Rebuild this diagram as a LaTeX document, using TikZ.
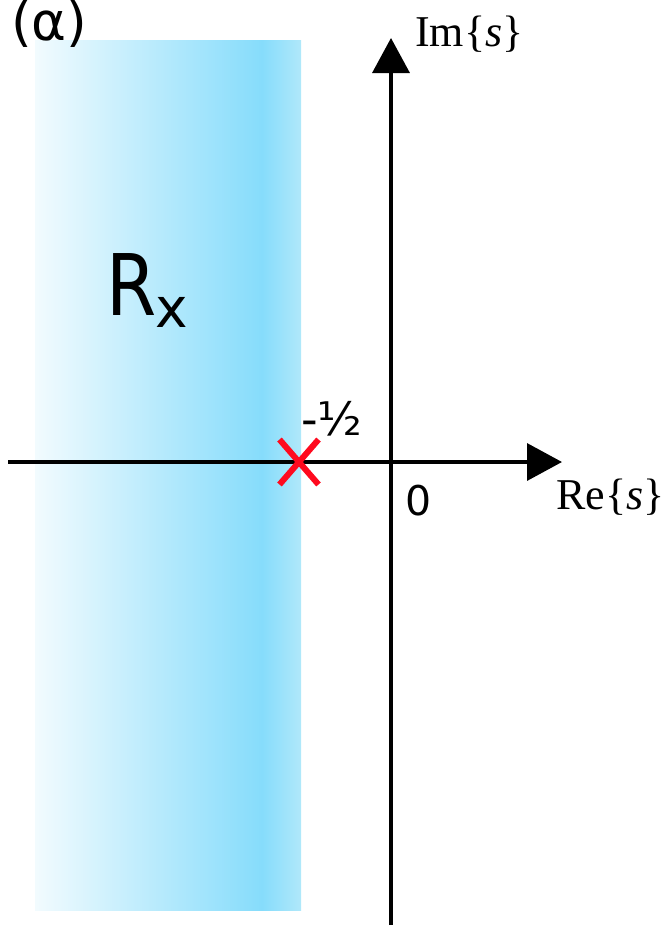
\documentclass[tikz,border=0pt]{standalone}
\usepackage{fontspec}
\setmainfont{DejaVu Sans}
\newfontfamily\serifrm{Liberation Serif}
\usetikzlibrary{arrows.meta,shapes.misc}
\definecolor{bandlight}{HTML}{F2FBFE}
\definecolor{banddark}{HTML}{86DCFB}
\definecolor{bandedge}{HTML}{B0E8FA}
\definecolor{polered}{HTML}{FF0A1E}
\tikzset{
  axis/.style={line width=3.5pt, -{Triangle[length=35pt,width=37pt]}},
  lbl/.style={inner sep=0pt, anchor=base west},
  polemark/.style={cross out, draw=polered, line width=6pt, minimum width=33pt, minimum height=39pt, inner sep=0pt}
}
\begin{document}
\begin{tikzpicture}[x=1pt,y=-1pt]
\useasboundingbox (0,0) rectangle (669,927);
% region of convergence
\shade[left color=bandlight, right color=banddark] (35,40) rectangle (262,910);
\shade[left color=banddark, right color=bandedge] (262,40) rectangle (301,910);
% axes
\coordinate (xstart) at (8,462);
\coordinate (xend) at (562,462);
\coordinate (ystart) at (391,925);
\coordinate (yend) at (391,38);
\draw[axis] (xstart) -- (xend);
\draw[axis] (ystart) -- (yend);
% labels
\node[lbl, font=\fontsize{53}{53}\selectfont] (alpha) at (11,40) {(α)};
\node[lbl, font=\serifrm\fontsize{44}{44}\selectfont] (im) at (415,46) {Im\{\textit{s}\}};
\node[lbl, font=\serifrm\fontsize{44}{44}\selectfont] (re) at (556,509) {Re\{\textit{s}\}};
\node[lbl, font=\fontsize{41}{41}\selectfont] (zero) at (405,515) {0};
\node[lbl, font=\fontsize{46}{46}\selectfont] (half) at (301,435) {-½};
\node[lbl, font=\fontsize{85}{85}\selectfont, xscale=0.85] (R) at (106,315) {R};
\node[lbl, font=\fontsize{55}{55}\selectfont] (sub) at (155,327) {x};
% pole
\node[polemark] (pole) at (299,462) {};
\end{tikzpicture}
\end{document}
